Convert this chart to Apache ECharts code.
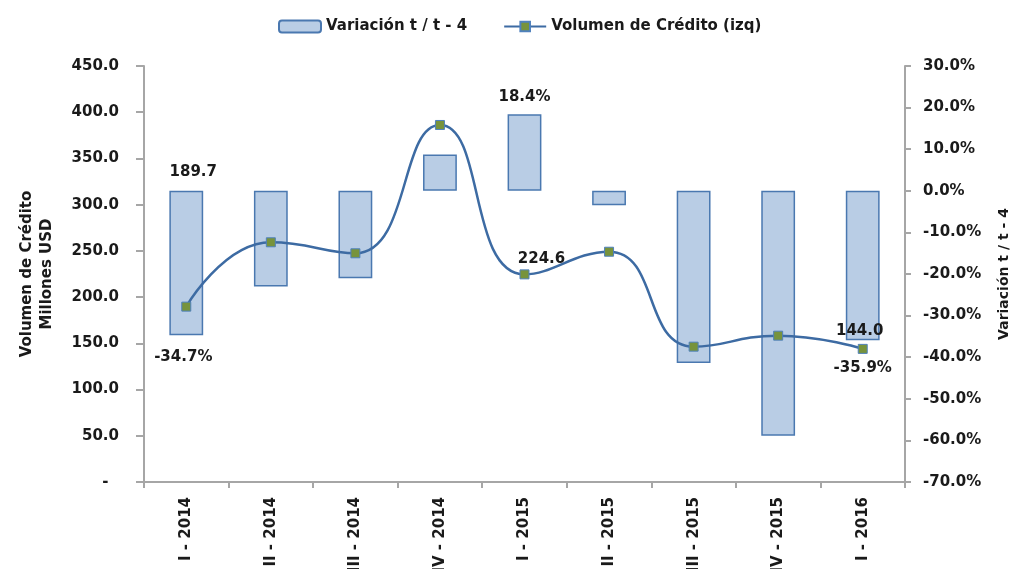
<!DOCTYPE html>
<html>
<head>
<meta charset="utf-8">
<script src="https://cdn.jsdelivr.net/npm/echarts@6/dist/echarts.min.js"></script>
<style>
html,body{margin:0;padding:0;background:#fff;}
#chart{width:1013px;height:569px;}
</style>
</head>
<body>
<div id="chart"></div>
<script>
// datos
var categorias = ["I - 2014","II - 2014","III - 2014","IV - 2014","I - 2015","II - 2015","III - 2015","IV - 2015","I - 2016"];
var volumen = [189.7, 259.3, 247.4, 386.2, 224.6, 249.1, 146.4, 158.3, 144.0];
var variacion = [-34.7, -23.0, -21.0, 8.7, 18.4, -3.5, -41.4, -58.9, -35.9];
var ejeIzq = [0, 450, 50];
var ejeDer = [-70, 30, 10];

var fuente = "DejaVu Sans";
var txt = "#1a1a1a";
var gris = '#a6a6a6';

var myChart = echarts.init(document.getElementById('chart'));

// etiquetas solo en algunos puntos, como en el original
var barData = variacion.map(function(v, i){
	var d = {value: v};
	if(i == 0){
		d.label = {show: true, position: 'bottom', distance: 14, offset: [-3, 0]};
	} else if(i == 4){
		d.label = {show: true, position: 'top', distance: 10};
	} else if(i == 8){
		d.label = {show: true, position: 'bottom', distance: 20};
	}
	return d;
});
var lineData = volumen.map(function(v, i){
	var d = {value: v};
	if(i == 0){
		d.label = {show: true, position: 'top', offset: [7, -117]};
	} else if(i == 4){
		d.label = {show: true, position: 'top', offset: [17, 2]};
	} else if(i == 8){
		d.label = {show: true, position: 'top', offset: [-3, 0]};
	}
	return d;
});

var option = {
	animation: false,
	textStyle: {fontFamily: fuente},
	legend: {
		top: 14,
		left: 273,
		itemWidth: 42,
		itemHeight: 12,
		itemGap: 36,
		textStyle: {fontFamily: fuente, fontSize: 15, fontWeight: 'bold', color: txt},
		data: ["Variación t / t - 4", "Volumen de Crédito (izq)"]
	},
	grid: {left: 144, right: 108, top: 66, bottom: 87, outerBoundsMode: 'none', containLabel: false},
	xAxis: {
		type: 'category',
		data: categorias,
		boundaryGap: true,
		axisLine: {lineStyle: {color: gris, width: 2}},
		axisTick: {show: true, length: 6, lineStyle: {color: gris, width: 2}},
		axisLabel: {rotate: 90, margin: 15, fontSize: 15, fontWeight: 'bold', color: txt, fontFamily: fuente}
	},
	yAxis: [{
		type: 'value',
		min: ejeIzq[0], max: ejeIzq[1], interval: ejeIzq[2],
		name: "Volumen de Crédito\nMillones USD",
		nameLocation: 'middle',
		nameGap: 87,
		nameRotate: 90,
		nameTextStyle: {fontFamily: fuente, fontSize: 15, fontWeight: 'bold', color: txt, lineHeight: 20},
		splitLine: {show: false},
		axisLine: {show: true, lineStyle: {color: gris, width: 2}},
		axisTick: {show: true, length: 8, lineStyle: {color: gris, width: 2}},
		axisLabel: {
			margin: 25, fontSize: 15, fontWeight: 'bold', color: txt, fontFamily: fuente,
			formatter: function(v){ return v == 0 ? '-  ' : v.toFixed(1); }
		}
	}, {
		type: 'value',
		position: 'right',
		min: ejeDer[0], max: ejeDer[1], interval: ejeDer[2],
		name: "Variación t / t - 4",
		nameLocation: 'middle',
		nameGap: 92,
		nameRotate: 90,
		nameTextStyle: {fontFamily: fuente, fontSize: 14, fontWeight: 'bold', color: txt},
		splitLine: {show: false},
		axisLine: {show: true, lineStyle: {color: gris, width: 2}},
		axisTick: {show: true, length: 6, lineStyle: {color: gris, width: 2}},
		axisLabel: {
			margin: 18, fontSize: 15, fontWeight: 'bold', color: txt, fontFamily: fuente,
			formatter: function(v){ return v.toFixed(1) + '%'; }
		}
	}],
	series: [{
		name: "Variación t / t - 4",
		type: 'bar',
		yAxisIndex: 1,
		barWidth: '40%',
		itemStyle: {color: '#b9cde5', borderColor: '#4a78b0', borderWidth: 1.5},
		label: {
			show: false, fontSize: 15, fontWeight: 'bold', color: txt, fontFamily: fuente,
			formatter: function(p){ return p.value.toFixed(1) + '%'; }
		},
		data: barData
	}, {
		name: "Volumen de Crédito (izq)",
		type: 'line',
		yAxisIndex: 0,
		smooth: 0.5,
		symbol: 'rect',
		symbolSize: 9,
		lineStyle: {color: '#3d6ba3', width: 2.5},
		itemStyle: {color: '#77933c', borderColor: '#4f81bd', borderWidth: 1},
		label: {
			show: false, fontSize: 15, fontWeight: 'bold', color: txt, fontFamily: fuente,
			formatter: function(p){ return p.value.toFixed(1); }
		},
		data: lineData
	}]
};

myChart.setOption(option);
</script>
</body>
</html>
